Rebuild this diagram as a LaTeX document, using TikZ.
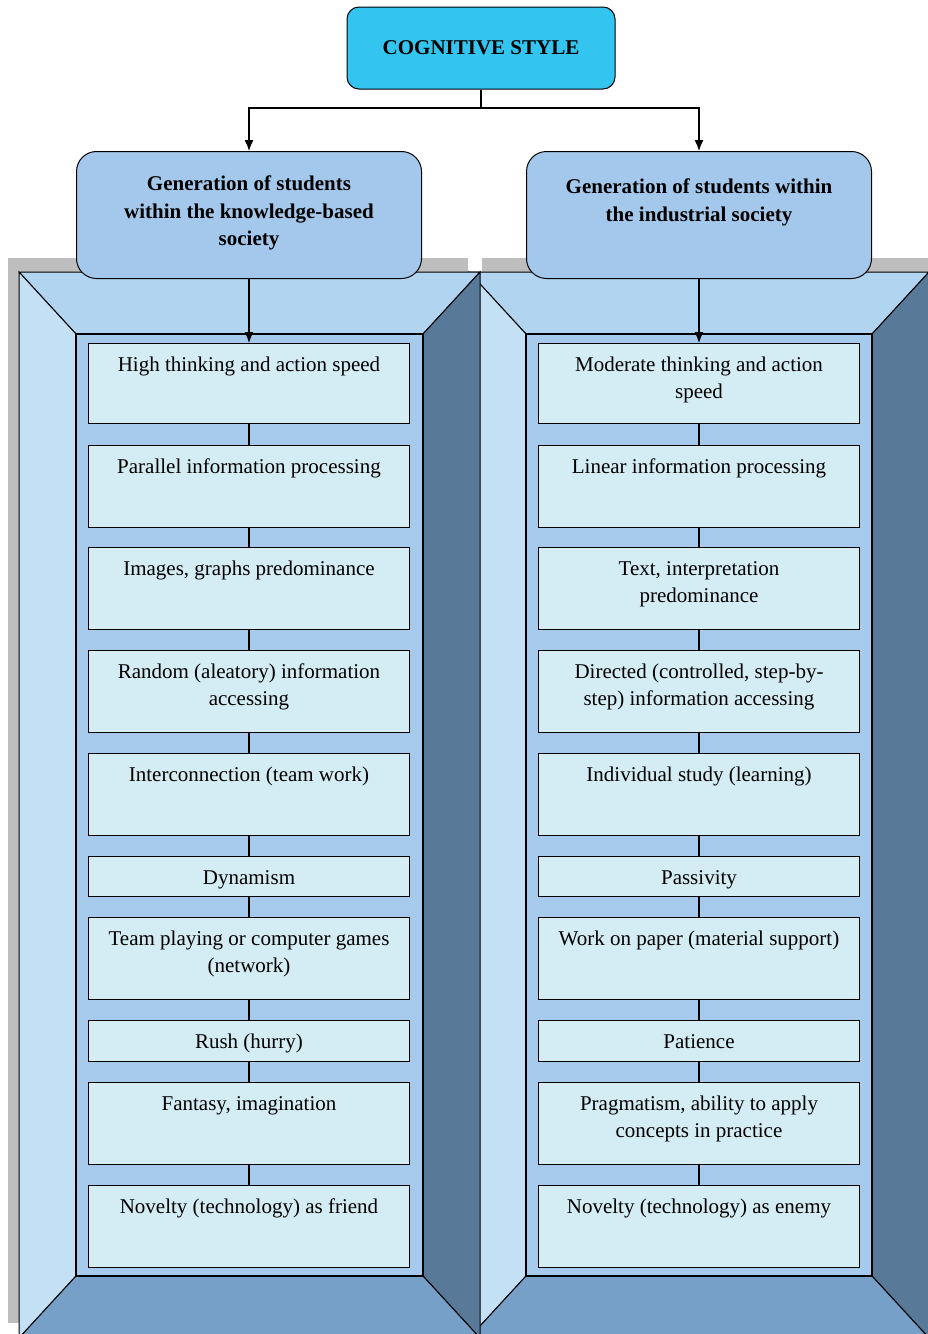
\documentclass[tikz,border=0pt]{standalone}
\usepackage{fontspec}
\setmainfont{Liberation Serif}
\usepackage{tikz}
\usetikzlibrary{arrows.meta}

\definecolor{titlefill}{HTML}{33C5F0}
\definecolor{headfill}{HTML}{A4C8EC}
\definecolor{cellfill}{HTML}{D4ECF4}
\definecolor{framein}{HTML}{A6CAEC}
\definecolor{frametop}{HTML}{B1D5F1}
\definecolor{frameleft}{HTML}{C4E0F4}
\definecolor{frameright}{HTML}{587A98}
\definecolor{framebot}{HTML}{76A0C8}
\definecolor{frameshade}{HTML}{BEBEBE}

\newcommand{\boxtext}[3]{\parbox[t][#1][t]{316pt}{\centering\rule{0pt}{#2}#3}}

\tikzset{
  title/.style={draw, line width=1pt, rounded corners=12pt, fill=titlefill, minimum width=268pt, minimum height=82pt, font=\fontsize{21}{27}\selectfont\bfseries},
  head/.style={draw, line width=1pt, rounded corners=20pt, fill=headfill, anchor=north, inner sep=0pt, minimum width=345pt, font=\fontsize{21}{27.5}\selectfont\bfseries},
  cell/.style={draw, line width=1.3pt, fill=cellfill, anchor=north, inner sep=0pt, minimum width=321pt},
  link/.style={line width=1.3pt}
}

\begin{document}
\begin{tikzpicture}[x=1pt, y=-1pt, font=\fontsize{21}{27}\selectfont, >={Latex[length=11pt,width=9pt]}]

\useasboundingbox (0,0) rectangle (927,1334);

\fill[frameshade] (8,258) rectangle (468,1323);
\fill[frameshade] (482,258) rectangle (940,1323);

\foreach \ox/\ix/\iX/\oX in {469/526/872/929, 19/76/423/480} {
  \filldraw[fill=frametop, line width=1pt] (\ox,272) -- (\oX,272) -- (\iX,334) -- (\ix,334) -- cycle;
  \filldraw[fill=frameleft, line width=1pt] (\ox,272) -- (\ix,334) -- (\ix,1276) -- (\ox,1338) -- cycle;
  \filldraw[fill=frameright, line width=1pt] (\oX,272) -- (\oX,1338) -- (\iX,1276) -- (\iX,334) -- cycle;
  \filldraw[fill=framebot, line width=1pt] (\ix,1276) -- (\iX,1276) -- (\oX,1338) -- (\ox,1338) -- cycle;
  \filldraw[fill=framein, line width=1.3pt] (\ix,334) rectangle (\iX,1276);
}

\node[title] (cog) at (481,48) {COGNITIVE STYLE};
\node[head] (gk) at (249,151) {\boxtext{127pt}{39pt}{Generation of students\\within the knowledge-based\\society}};
\node[head] (gi) at (699,151) {\boxtext{127pt}{42pt}{Generation of students within\\the industrial society}};

\coordinate (fork) at (481,108);
\draw[link] (cog) -- (fork);
\draw[link,->] (fork) -| (gk);
\draw[link,->] (fork) -| (gi);

\node[cell] (k1) at (249,343) {\boxtext{80pt}{28pt}{High thinking and action speed}};
\node[cell] (k2) at (249,445) {\boxtext{82pt}{28pt}{Parallel information processing}};
\node[cell] (k3) at (249,547) {\boxtext{82pt}{28pt}{Images, graphs predominance}};
\node[cell] (k4) at (249,650) {\boxtext{82pt}{28pt}{Random (aleatory) information\\accessing}};
\node[cell] (k5) at (249,753) {\boxtext{82pt}{28pt}{Interconnection (team work)}};
\node[cell] (k6) at (249,856) {\boxtext{40pt}{28pt}{Dynamism}};
\node[cell] (k7) at (249,917) {\boxtext{82pt}{28pt}{Team playing or computer games\\(network)}};
\node[cell] (k8) at (249,1020) {\boxtext{41pt}{28pt}{Rush (hurry)}};
\node[cell] (k9) at (249,1082) {\boxtext{82pt}{28pt}{Fantasy, imagination}};
\node[cell] (k10) at (249,1185) {\boxtext{82pt}{28pt}{Novelty (technology) as friend}};

\node[cell] (i1) at (699,343) {\boxtext{80pt}{28pt}{Moderate thinking and action\\speed}};
\node[cell] (i2) at (699,445) {\boxtext{82pt}{28pt}{Linear information processing}};
\node[cell] (i3) at (699,547) {\boxtext{82pt}{28pt}{Text, interpretation\\predominance}};
\node[cell] (i4) at (699,650) {\boxtext{82pt}{28pt}{Directed (controlled, step-by-\\step) information accessing}};
\node[cell] (i5) at (699,753) {\boxtext{82pt}{28pt}{Individual study (learning)}};
\node[cell] (i6) at (699,856) {\boxtext{40pt}{28pt}{Passivity}};
\node[cell] (i7) at (699,917) {\boxtext{82pt}{28pt}{Work on paper (material support)}};
\node[cell] (i8) at (699,1020) {\boxtext{41pt}{28pt}{Patience}};
\node[cell] (i9) at (699,1082) {\boxtext{82pt}{28pt}{Pragmatism, ability to apply\\concepts in practice}};
\node[cell] (i10) at (699,1185) {\boxtext{82pt}{28pt}{Novelty (technology) as enemy}};

\draw[link,->] (gk) -- (k1);
\draw[link,->] (gi) -- (i1);

\foreach \s in {k,i}
  \foreach \a/\b in {1/2,2/3,3/4,4/5,5/6,6/7,7/8,8/9,9/10}
    \draw[link] (\s\a) -- (\s\b);

\end{tikzpicture}
\end{document}
